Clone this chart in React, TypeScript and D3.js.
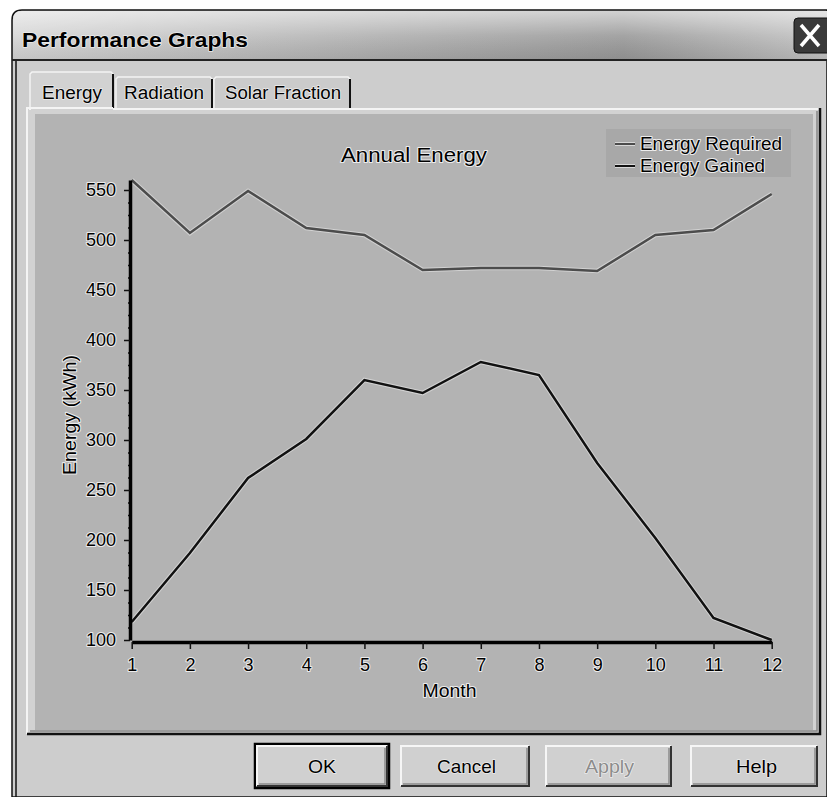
import React, { useEffect, useRef } from 'react';
import * as d3 from 'd3';

const months = [1, 2, 3, 4, 5, 6, 7, 8, 9, 10, 11, 12];
const energyRequired = [560, 507, 549, 512, 505, 470, 472, 472, 469, 505, 510, 546];
const energyGained = [118, 187, 262, 301, 360, 347, 378, 365, 277, 202, 122, 100];
const yTicks = [100, 150, 200, 250, 300, 350, 400, 450, 500, 550];
const seriesNames = ['Energy Required', 'Energy Gained'];
const seriesColors = ['#4c4c4c', '#111111'];
const tabs = ['Energy', 'Radiation', 'Solar Fraction'];
const buttons = ['OK', 'Cancel', 'Apply', 'Help'];

const W = 827, H = 797;
const FONT = 'Liberation Sans, Arial, sans-serif';

function App() {
  const ref = useRef<SVGSVGElement>(null);

  useEffect(() => {
    const svg = d3.select(ref.current);
    svg.selectAll('*').remove();

    const defs = svg.append('defs');
    const tg = defs.append('linearGradient').attr('id', 'titleGrad').attr('x1', 0).attr('x2', 1).attr('y1', 0).attr('y2', 0);
    tg.append('stop').attr('offset', '0%').attr('stop-color', '#d6d6d6');
    tg.append('stop').attr('offset', '45%').attr('stop-color', '#b0b0b0');
    tg.append('stop').attr('offset', '75%').attr('stop-color', '#9a9a9a');
    tg.append('stop').attr('offset', '100%').attr('stop-color', '#c4c4c4');
    const tv = defs.append('linearGradient').attr('id', 'titleShine').attr('x1', 0).attr('x2', 0).attr('y1', 0).attr('y2', 1);
    tv.append('stop').attr('offset', '0%').attr('stop-color', '#fff').attr('stop-opacity', 0.55);
    tv.append('stop').attr('offset', '50%').attr('stop-color', '#fff').attr('stop-opacity', 0.1);
    tv.append('stop').attr('offset', '100%').attr('stop-color', '#000').attr('stop-opacity', 0.08);

    const halo = (sel: any, w = 2) => sel.attr('paint-order', 'stroke').attr('stroke', '#ececec').attr('stroke-width', w).attr('stroke-linejoin', 'round');

    // page + window frame
    svg.append('rect').attr('width', W).attr('height', H).attr('fill', '#fff');
    svg.append('path').attr('d', `M12,${H} L12,20 Q12,10 22,10 L${W},10 L${W},${H} Z`).attr('fill', '#cdcdcd').attr('stroke', '#111').attr('stroke-width', 1.5);
    svg.append('line').attr('x1', 16).attr('x2', 16).attr('y1', 60).attr('y2', H).attr('stroke', '#111').attr('stroke-width', 1.5);

    // title bar
    svg.append('path').attr('d', `M13,60 L13,20 Q13,11 22,11 L${W},11 L${W},60 Z`).attr('fill', 'url(#titleGrad)');
    svg.append('path').attr('d', `M13,60 L13,20 Q13,11 22,11 L${W},11 L${W},60 Z`).attr('fill', 'url(#titleShine)');
    svg.append('line').attr('x1', 12).attr('x2', W).attr('y1', 60).attr('y2', 60).attr('stroke', '#222').attr('stroke-width', 2);
    halo(svg.append('text').attr('x', 22).attr('y', 47).attr('font-family', FONT).attr('font-weight', 'bold').attr('font-size', 21)
      .attr('textLength', 226).attr('lengthAdjust', 'spacingAndGlyphs').attr('fill', '#000').text('Performance Graphs'), 1.5);
    // close button
    svg.append('rect').attr('x', 794).attr('y', 18).attr('width', 40).attr('height', 35).attr('rx', 4).attr('fill', '#3a3a3a').attr('stroke', '#111');
    svg.append('path').attr('d', 'M801,25 L819,46 M819,25 L801,46').attr('stroke', '#fff').attr('stroke-width', 3.5);

    // tabs
    const tabX = [[30, 113], [116, 212], [214, 350]];
    const tabTextX = [[42, 102], [124, 204], [225, 341]];
    tabs.forEach((t, i) => {
      const [a, b] = tabX[i];
      const top = i === 0 ? 72 : 77;
      svg.append('path').attr('d', `M${a},110 L${a},${top + 2} L${a + 2},${top} L${b - 2},${top} L${b},${top + 2} L${b},110`)
        .attr('fill', i === 0 ? '#d2d2d2' : '#cbcbcb').attr('stroke', '#f4f4f4').attr('stroke-width', 1.5);
      svg.append('line').attr('x1', b).attr('x2', b).attr('y1', top + 2).attr('y2', 108).attr('stroke', '#111').attr('stroke-width', 2);
      halo(svg.append('text').attr('x', tabTextX[i][0]).attr('y', 99).attr('font-family', FONT).attr('font-size', 18)
        .attr('textLength', tabTextX[i][1] - tabTextX[i][0]).attr('lengthAdjust', 'spacingAndGlyphs').attr('fill', '#000').text(t), 1.5);
    });

    // tab panel
    svg.append('rect').attr('x', 27).attr('y', 108).attr('width', 793).attr('height', 626).attr('fill', '#d2d2d2');
    svg.append('path').attr('d', 'M27,734 L27,108 L113,108 M30,108 L30,110').attr('fill', 'none').attr('stroke', '#f4f4f4').attr('stroke-width', 2);
    svg.append('line').attr('x1', 113).attr('x2', 820).attr('y1', 109).attr('y2', 109).attr('stroke', '#f4f4f4').attr('stroke-width', 2);
    svg.append('path').attr('d', 'M27,734 L820,734 L820,108').attr('fill', 'none').attr('stroke', '#111').attr('stroke-width', 2.5);
    svg.append('path').attr('d', 'M30,731 L817,731 L817,111').attr('fill', 'none').attr('stroke', '#888').attr('stroke-width', 1.5);

    // chart area
    svg.append('rect').attr('x', 35).attr('y', 114).attr('width', 778).attr('height', 616).attr('fill', '#b3b3b3');

    const x = d3.scaleLinear().domain([1, 12]).range([131.7, 771.7]);
    const y = d3.scaleLinear().domain([100, 560]).range([640, 180]);

    // lines
    const line = d3.line<number>().x((d, i) => x(months[i])).y(d => y(d));
    [energyRequired, energyGained].forEach((s, i) => {
      svg.append('path').attr('d', line(s)).attr('fill', 'none').attr('stroke', '#d2d2d2').attr('stroke-width', 4.5);
      svg.append('path').attr('d', line(s)).attr('fill', 'none').attr('stroke', seriesColors[i]).attr('stroke-width', 2.5);
    });

    // y axis
    const minor = d3.range(100, 560, 12.5).filter(v => v % 50 !== 0);
    const yMinor = svg.append('g').attr('transform', 'translate(130,0)')
      .call(d3.axisLeft(y).tickValues(minor).tickSize(2).tickSizeOuter(0).tickFormat(() => ''));
    yMinor.select('.domain').remove();
    yMinor.selectAll('line').attr('stroke', '#111').attr('stroke-width', 1.5);
    const yAx = svg.append('g').attr('transform', 'translate(130,0)')
      .call(d3.axisLeft(y).tickValues(yTicks).tickSize(6).tickSizeOuter(0).tickPadding(8));
    yAx.select('.domain').attr('stroke', '#000').attr('stroke-width', 3.5);
    yAx.selectAll('line').attr('stroke', '#111').attr('stroke-width', 1.5);
    halo(yAx.selectAll('text').attr('font-family', FONT).attr('font-size', 18).attr('fill', '#000'));

    // x axis
    const xAx = svg.append('g').attr('transform', 'translate(0,642)')
      .call(d3.axisBottom(x).tickValues(months).tickSize(7).tickSizeOuter(0).tickPadding(9).tickFormat(d3.format('d')));
    xAx.select('.domain').attr('stroke', '#000').attr('stroke-width', 3.5);
    xAx.selectAll('line').attr('stroke', '#111').attr('stroke-width', 1.5);
    halo(xAx.selectAll('text').attr('font-family', FONT).attr('font-size', 18).attr('fill', '#000'));

    // axis titles + chart title
    halo(svg.append('text').attr('x', 449.5).attr('y', 697).attr('text-anchor', 'middle').attr('font-family', FONT).attr('font-size', 18)
      .attr('textLength', 54).attr('lengthAdjust', 'spacingAndGlyphs').text('Month'));
    halo(svg.append('text').attr('transform', 'translate(76,415) rotate(-90)').attr('text-anchor', 'middle').attr('font-family', FONT).attr('font-size', 18)
      .attr('textLength', 120).attr('lengthAdjust', 'spacingAndGlyphs').text('Energy (kWh)'));
    halo(svg.append('text').attr('x', 414).attr('y', 162).attr('text-anchor', 'middle').attr('font-family', FONT).attr('font-size', 20)
      .attr('textLength', 146).attr('lengthAdjust', 'spacingAndGlyphs').text('Annual Energy'));

    // legend
    svg.append('rect').attr('x', 606).attr('y', 129).attr('width', 185).attr('height', 48).attr('fill', '#a8a8a8');
    const legW = [142, 125];
    seriesNames.forEach((n, i) => {
      const ly = 144 + i * 22;
      svg.append('line').attr('x1', 615).attr('x2', 635).attr('y1', ly).attr('y2', ly).attr('stroke', '#d8d8d8').attr('stroke-width', 4);
      svg.append('line').attr('x1', 615).attr('x2', 635).attr('y1', ly).attr('y2', ly).attr('stroke', seriesColors[i]).attr('stroke-width', 2);
      halo(svg.append('text').attr('x', 640).attr('y', ly + 6).attr('font-family', FONT).attr('font-size', 18)
        .attr('textLength', legW[i]).attr('lengthAdjust', 'spacingAndGlyphs').text(n));
    });

    // buttons
    const btnX = [[256, 388], [400, 530], [545, 672], [690, 818]];
    const btnText = [[308, 336], [437, 496], [585, 634], [736, 777]];
    buttons.forEach((b, i) => {
      const [a, c] = btnX[i];
      const g = svg.append('g');
      if (i === 0) g.append('rect').attr('x', a - 1).attr('y', 744).attr('width', c - a + 2).attr('height', 44).attr('fill', 'none').attr('stroke', '#000').attr('stroke-width', 2.5);
      g.append('rect').attr('x', a + 1).attr('y', 746).attr('width', c - a - 2).attr('height', 40).attr('fill', '#d0d0d0');
      g.append('path').attr('d', `M${a + 1},786 L${a + 1},746 L${c - 1},746`).attr('fill', 'none').attr('stroke', '#f6f6f6').attr('stroke-width', 2);
      g.append('path').attr('d', `M${a + 1},786 L${c - 1},786 L${c - 1},746`).attr('fill', 'none').attr('stroke', '#333').attr('stroke-width', 2);
      g.append('path').attr('d', `M${a + 3},784 L${c - 3},784 L${c - 3},748`).attr('fill', 'none').attr('stroke', '#8a8a8a').attr('stroke-width', 1.5);
      halo(g.append('text').attr('x', (btnText[i][0] + btnText[i][1]) / 2).attr('y', 773).attr('text-anchor', 'middle').attr('font-family', FONT).attr('font-size', 19)
        .attr('textLength', btnText[i][1] - btnText[i][0]).attr('lengthAdjust', 'spacingAndGlyphs')
        .attr('fill', i === 2 ? '#8c8c8c' : '#000').text(b), i === 2 ? 1.5 : 1.5);
    });
  }, []);

  return <svg ref={ref} width={W} height={H} style={{ position: 'absolute', left: 0, top: 0 }} />;
}

export default App;
